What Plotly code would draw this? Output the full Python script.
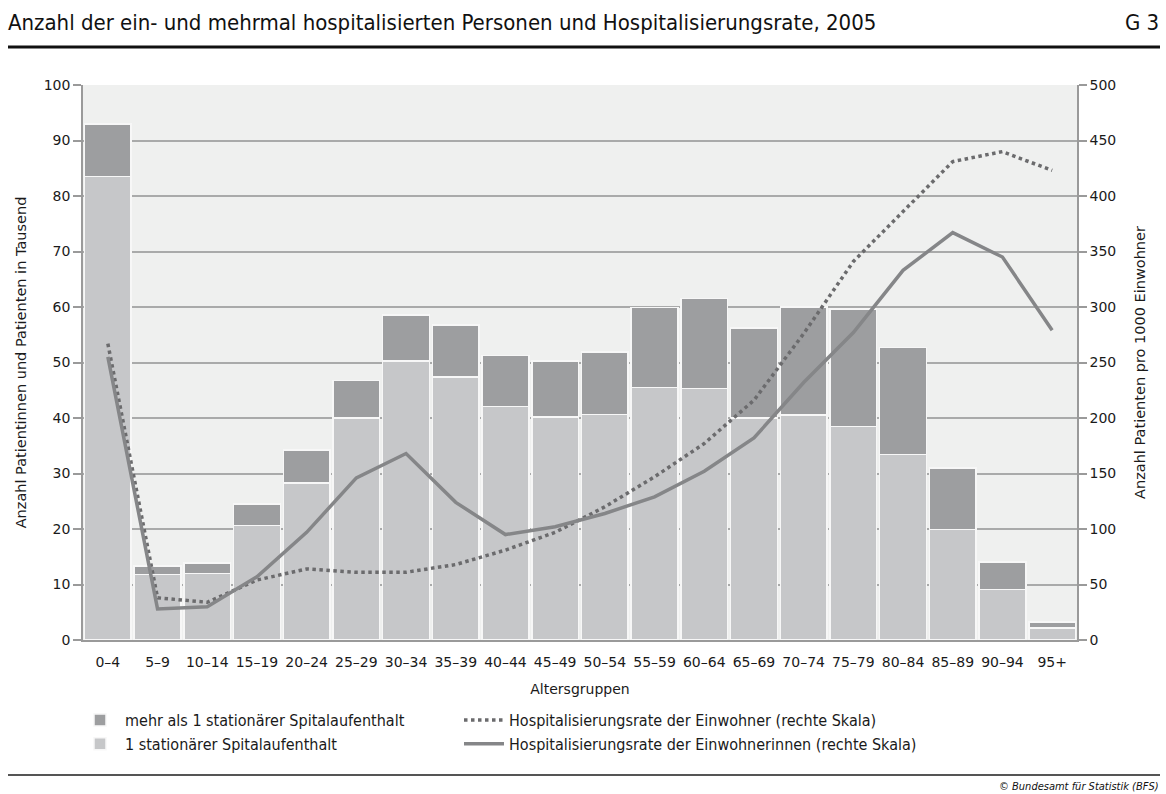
import plotly.graph_objects as go

# ---- data ----
age_groups = ["0–4", "5–9", "10–14", "15–19", "20–24", "25–29", "30–34", "35–39", "40–44", "45–49",
              "50–54", "55–59", "60–64", "65–69", "70–74", "75–79", "80–84", "85–89", "90–94", "95+"]
one_stay = [83.5, 11.8, 12.0, 20.6, 28.3, 40.0, 50.3, 47.4, 42.1, 40.2,
            40.6, 45.5, 45.3, 40.0, 40.5, 38.5, 33.4, 19.9, 9.1, 2.2]
multi_stay = [9.5, 1.5, 1.9, 3.9, 5.9, 6.8, 8.3, 9.4, 9.2, 10.1,
              11.3, 14.4, 16.2, 16.2, 19.5, 21.1, 19.3, 11.1, 5.0, 1.0]
rate_men = [267, 38, 34, 54, 64, 61, 61, 68, 81, 97,
            120, 147, 177, 216, 276, 341, 386, 431, 440, 423]
rate_women = [255, 28, 30, 57, 97, 146, 168, 124, 95, 102,
              114, 129, 152, 182, 232, 277, 333, 367, 345, 279]

# ---- geometry helpers (pixels -> paper) ----
W, H = 1166, 794
L, R, T, B = 83, 89, 85, 154
PW, PH = W - L - R, H - T - B
def px(x):
    return (x - L) / PW
def py(y):
    return (H - B - y) / PH

tick_font = dict(family="DejaVu Sans", size=14, color="#1a1a1a")
cond = "DejaVu Sans Condensed"
leg_font = dict(family=cond, size=16, color="#1a1a1a")

fig = go.Figure()
fig.add_trace(go.Bar(x=age_groups, y=one_stay, name="1 stationärer Spitalaufenthalt",
                     marker=dict(color="#c6c7c9", line=dict(color="#f7f7f7", width=1.5)),
                     legend="legend", legendrank=2))
fig.add_trace(go.Bar(x=age_groups, y=multi_stay, name="mehr als 1 stationärer Spitalaufenthalt",
                     marker=dict(color="#9d9ea0", line=dict(color="#f7f7f7", width=1.5)),
                     legend="legend", legendrank=1))
fig.add_trace(go.Scatter(x=age_groups, y=rate_men, yaxis="y2", mode="lines",
                         name="Hospitalisierungsrate der Einwohner (rechte Skala)",
                         line=dict(color="#6b6b6d", width=3.5, dash="dot"),
                         legend="legend2", legendrank=1))
fig.add_trace(go.Scatter(x=age_groups, y=rate_women, yaxis="y2", mode="lines",
                         name="Hospitalisierungsrate der Einwohnerinnen (rechte Skala)",
                         line=dict(color="#858688", width=3.5),
                         legend="legend2", legendrank=2))

fig.update_layout(
    width=W, height=H,
    margin=dict(l=L, r=R, t=T, b=B),
    paper_bgcolor="white",
    plot_bgcolor="#eff0ef",
    barmode="stack",
    bargap=0.06,
    showlegend=True,
    legend=dict(orientation="v", x=px(75), y=py(703), xanchor="left", yanchor="top",
                font=leg_font, traceorder="normal", bgcolor="rgba(0,0,0,0)",
                tracegroupgap=0, itemwidth=40),
    legend2=dict(orientation="v", x=px(459), y=py(703), xanchor="left", yanchor="top",
                 font=leg_font, traceorder="normal", bgcolor="rgba(0,0,0,0)",
                 tracegroupgap=0, itemwidth=40),
    xaxis=dict(type="category", showgrid=False, tickfont=tick_font,
               ticks="outside", ticklen=8, tickcolor="rgba(0,0,0,0)",
               showline=True, linecolor="#9a9a9a", linewidth=1.5,
               title=dict(text="Altersgruppen", font=dict(family="DejaVu Sans", size=14, color="#1a1a1a"),
                          standoff=16)),
    yaxis=dict(range=[0, 100], dtick=10, showgrid=True, gridcolor="#a9aaaa", gridwidth=1.5,
               ticks="outside", ticklen=8, tickcolor="#9a9a9a", tickwidth=1.5,
               showline=True, linecolor="#9a9a9a", linewidth=1.5, zeroline=False,
               tickfont=tick_font,
               title=dict(text="Anzahl Patientinnen und Patienten in Tausend",
                          font=dict(family="DejaVu Sans", size=14.5, color="#1a1a1a"), standoff=14)),
    yaxis2=dict(range=[0, 500], dtick=50, overlaying="y", side="right", showgrid=False,
                ticks="outside", ticklen=8, tickcolor="#9a9a9a", tickwidth=1.5,
                showline=True, linecolor="#9a9a9a", linewidth=1.5, zeroline=False,
                tickfont=tick_font,
                title=dict(text="Anzahl Patienten pro 1000 Einwohner",
                           font=dict(family="DejaVu Sans", size=14.5, color="#1a1a1a"), standoff=20)),
)

# title, figure number, rules and source
fig.add_annotation(text="Anzahl der ein- und mehrmal hospitalisierten Personen und Hospitalisierungsrate, 2005",
                   xref="paper", yref="paper", x=px(6), y=py(22), xanchor="left", yanchor="middle",
                   showarrow=False, font=dict(family=cond, size=22, color="#111"))
fig.add_annotation(text="G 3", xref="paper", yref="paper", x=px(1161), y=py(22),
                   xanchor="right", yanchor="middle", showarrow=False,
                   font=dict(family=cond, size=22, color="#111"))
fig.add_annotation(text="<i>© Bundesamt für Statistik (BFS)</i>", xref="paper", yref="paper",
                   x=px(1161), y=py(786), xanchor="right", yanchor="middle", showarrow=False,
                   font=dict(family=cond, size=11, color="#111"))
fig.add_shape(type="line", xref="paper", yref="paper", x0=px(8), x1=px(1160), y0=py(47), y1=py(47),
              line=dict(color="#111", width=3))
fig.add_shape(type="line", xref="paper", yref="paper", x0=px(8), x1=px(1160), y0=py(775), y1=py(775),
              line=dict(color="#555", width=2))

fig.write_html("out.html", config={"displayModeBar": False},
               post_script="document.body.style.margin='0px';")
